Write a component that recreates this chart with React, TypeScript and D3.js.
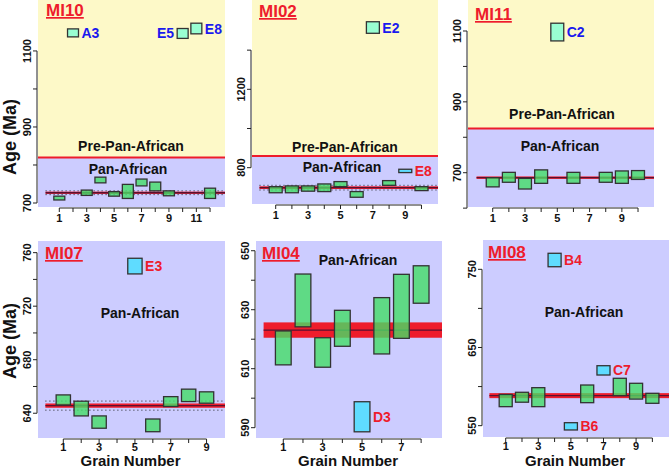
import React from "react";
import * as d3 from "d3";

// ---- data (ages in Ma) ----
// MI10
const mi10Grain = [1, 2, 3, 4, 5, 6, 7, 8, 9, 10, 11, 12];
const mi10Lo = [708, 1137, 720, 753, 718, 712, 745, 732, 719, 1133, 1145, 712];
const mi10Hi = [718, 1158, 734, 768, 730, 749, 763, 755, 732, 1159, 1173, 739];
const mi10Kind = ["pan", "pre", "pan", "pan", "pan", "pan", "pan", "pan", "pan", "pre", "pre", "pan"];
const mi10Label = ["", "A3", "", "", "", "", "", "", "", "E5", "E8", ""];
const mi10Side = ["r", "r", "r", "r", "r", "r", "r", "r", "r", "l", "r", "r"];

// MI02
const mi02Grain = [1, 2, 3, 4, 5, 6, 7, 8, 9, 10];
const mi02Lo = [672, 672, 680, 678, 703, 649, 1486, 710, 775, 683];
const mi02Hi = [703, 707, 707, 717, 729, 678, 1545, 734, 792, 703];
const mi02Kind = ["pan", "pan", "pan", "pan", "pan", "pan", "pre", "pan", "out", "pan"];
const mi02Label = ["", "", "", "", "", "", "E2", "", "E8", ""];

// MI11
const mi11Grain = [1, 2, 3, 4, 5, 6, 8, 9, 10];
const mi11Lo = [660, 673, 654, 670, 1072, 670, 673, 670, 681];
const mi11Hi = [686, 701, 684, 708, 1122, 701, 701, 705, 706];
const mi11Kind = ["pan", "pan", "pan", "pan", "pre", "pan", "pan", "pan", "pan"];
const mi11Label = ["", "", "", "", "C2", "", "", "", ""];

// MI07
const mi07Grain = [1, 2, 3, 5, 6, 7, 8, 9];
const mi07Lo = [646.2, 638, 628.8, 744.1, 626.2, 645, 648.7, 647.5];
const mi07Hi = [653.7, 649, 638, 755.8, 635.7, 652.4, 658, 656];
const mi07Kind = ["pan", "pan", "pan", "out", "pan", "pan", "pan", "pan"];
const mi07Label = ["", "", "", "E3", "", "", "", ""];

// MI04
const mi04Grain = [1, 2, 3, 4, 5, 6, 7, 8];
const mi04Lo = [611.3, 624.2, 610.5, 617.6, 588.6, 615, 620.3, 632.2];
const mi04Hi = [622.8, 642.1, 620.5, 629.8, 598.8, 634.1, 642, 644.9];
const mi04Kind = ["pan", "pan", "pan", "pan", "out", "pan", "pan", "pan"];
const mi04Label = ["", "", "", "", "D3", "", "", ""];

// MI08
const mi08Grain = [1, 2, 3, 4, 5, 6, 7, 8, 9, 10];
const mi08Lo = [574.3, 580, 574.3, 753.3, 544.5, 579.4, 614.8, 588.4, 584, 578.6];
const mi08Hi = [590, 592.7, 598.6, 770.5, 553.8, 602, 626.7, 610.6, 604.2, 591.4];
const mi08Kind = ["pan", "pan", "pan", "out", "out", "pan", "out", "pan", "pan", "pan"];
const mi08Label = ["", "", "", "B4", "B6", "", "C7", "", "", ""];

// weighted means: [mean, red band half width, dotted half width]
const mi10Mean = [727, 3, 5];
const mi02Mean = [698, 7, 12];
const mi11Mean = [686, 3.5, 0];
const mi07Mean = [645.7, 1.6, 3.4];
const mi04Mean = [623.1, 2.6, 0];
const mi08Mean = [588.4, 3.2, 0];

// Pan-African / pre-Pan-African boundary
const mi10Boundary = 820;
const mi02Boundary = 860;
const mi11Boundary = 825;

// axis ticks
const mi10YTicks = [700, 800, 900, 1000, 1100];
const mi10YLabels = [700, 900, 1100];
const mi02YTicks = [800, 1000, 1200, 1400];
const mi02YLabels = [800, 1200];
const mi11YTicks = [600, 700, 800, 900, 1000, 1100];
const mi11YLabels = [700, 900, 1100];
const mi07YTicks = [640, 660, 680, 700, 720, 740, 760];
const mi07YLabels = [640, 680, 720, 760];
const mi04YTicks = [590, 600, 610, 620, 630, 640, 650];
const mi04YLabels = [590, 610, 630, 650];
const mi08YTicks = [550, 600, 650, 700, 750];
const mi08YLabels = [550, 650, 750];
const xLabelsOdd = [1, 3, 5, 7, 9, 11];

const FONT = "'Liberation Sans', Arial, sans-serif";
const YELLOW = "#fdf9c8";
const LAVENDER = "#ccccff";
const RED = "#ee1c2c";
const BLUE = "#1a1aee";
const FILL: Record<string, string> = { pan: "#44dd66", pre: "#7fffd4", out: "#44e0ff" };

type Panel = {
  name: string;
  grain: number[];
  lo: number[];
  hi: number[];
  kind: string[];
  label: string[];
  side?: string[];
  mean: number[];
  boundary?: number;
  yTicks: number[];
  yLabels: number[];
  xMax: number;
  rect: [number, number, number, number];
  xDom: [number, number];
  yDom: [number, number];
  pan: [number, number];
  pre?: [number, number];
  title: [number, number];
  ageY?: number;
  grainLabel?: boolean;
};

const panels: Panel[] = [
  {
    name: "MI10", grain: mi10Grain, lo: mi10Lo, hi: mi10Hi, kind: mi10Kind, label: mi10Label, side: mi10Side,
    mean: mi10Mean, boundary: mi10Boundary, yTicks: mi10YTicks, yLabels: mi10YLabels, xMax: 12,
    rect: [38, 225, 0, 207], xDom: [-0.555, 13.09], yDom: [689.5, 1234],
    pan: [128, 174], pre: [131, 151], title: [46, 16], ageY: 137,
  },
  {
    name: "MI02", grain: mi02Grain, lo: mi02Lo, hi: mi02Hi, kind: mi02Kind, label: mi02Label,
    mean: mi02Mean, boundary: mi02Boundary, yTicks: mi02YTicks, yLabels: mi02YLabels, xMax: 10,
    rect: [252, 438, 0, 204], xDom: [-0.463, 11.02], yDom: [614.6, 1656],
    pan: [342, 172], pre: [345, 152], title: [259, 17],
  },
  {
    name: "MI11", grain: mi11Grain, lo: mi11Lo, hi: mi11Hi, kind: mi11Kind, label: mi11Label,
    mean: mi11Mean, boundary: mi11Boundary, yTicks: mi11YTicks, yLabels: mi11YLabels, xMax: 10,
    rect: [468, 654, 0, 207], xDom: [-0.53, 10.99], yDom: [603.2, 1187.5],
    pan: [560, 151], pre: [562, 119], title: [475, 20],
  },
  {
    name: "MI07", grain: mi07Grain, lo: mi07Lo, hi: mi07Hi, kind: mi07Kind, label: mi07Label,
    mean: mi07Mean, yTicks: mi07YTicks, yLabels: mi07YLabels, xMax: 9,
    rect: [38, 225, 241, 438], xDom: [-0.413, 10.03], yDom: [621.5, 768.7],
    pan: [140, 318], title: [45, 259], ageY: 341, grainLabel: true,
  },
  {
    name: "MI04", grain: mi04Grain, lo: mi04Lo, hi: mi04Hi, kind: mi04Kind, label: mi04Label,
    mean: mi04Mean, yTicks: mi04YTicks, yLabels: mi04YLabels, xMax: 8,
    rect: [256, 442, 241, 438], xDom: [-0.386, 9.06], yDom: [586.5, 653.3],
    pan: [358, 265], title: [262, 259], grainLabel: true,
  },
  {
    name: "MI08", grain: mi08Grain, lo: mi08Lo, hi: mi08Hi, kind: mi08Kind, label: mi08Label,
    mean: mi08Mean, yTicks: mi08YTicks, yLabels: mi08YLabels, xMax: 10,
    rect: [483, 669, 240, 437], xDom: [-0.393, 11.02], yDom: [535.5, 787.5],
    pan: [584, 317], title: [488, 258], grainLabel: true,
  },
];

const PanelPlot = ({ p }: { p: Panel }) => {
  const [x0, x1, y0, y1] = p.rect;
  const x = d3.scaleLinear().domain(p.xDom).range([x0, x1]);
  const y = d3.scaleLinear().domain(p.yDom).range([y1, y0]);
  const [m, band, dots] = p.mean;
  const xTicks = d3.range(1, p.xMax + 1);
  const axX = x0 - 1;
  const axY = y1 + 1;
  const yT = p.yTicks.filter((t) => y(t) >= y0 - 1 && y(t) <= y1 + 2);
  const tickDy = p.grainLabel ? 12 : 14;

  return (
    <g>
      {p.boundary ? (
        <>
          <rect x={x0} y={y0} width={x1 - x0} height={y(p.boundary) - y0} fill={YELLOW} />
          <rect x={x0} y={y(p.boundary)} width={x1 - x0} height={y1 - y(p.boundary)} fill={LAVENDER} />
          <line x1={x0} x2={x1} y1={y(p.boundary)} y2={y(p.boundary)} stroke={RED} strokeWidth={2} />
        </>
      ) : (
        <rect x={x0} y={y0} width={x1 - x0} height={y1 - y0} fill={LAVENDER} />
      )}

      {/* weighted mean */}
      <rect x={x(0)} width={x1 - x(0)} y={y(m + band)} height={y(m - band) - y(m + band)} fill={RED} />
      <line x1={x(0)} x2={x1} y1={y(m)} y2={y(m)} stroke="#5a1030" strokeWidth={1.3} />
      {dots > 0 &&
        [m - dots, m + dots].map((v, i) => (
          <line key={i} x1={x(0)} x2={x1} y1={y(v)} y2={y(v)} stroke="#222" strokeWidth={1} strokeDasharray="1 3" />
        ))}

      {/* grain boxes */}
      {p.grain.map((g, i) => (
        <rect
          key={i}
          x={x(g - 0.4)}
          width={x(g + 0.4) - x(g - 0.4)}
          y={y(p.hi[i])}
          height={y(p.lo[i]) - y(p.hi[i])}
          fill={FILL[p.kind[i]]}
          fillOpacity={0.8}
          stroke="#333"
          strokeWidth={1.3}
        />
      ))}
      {p.grain.map((g, i) =>
        p.label[i] ? (
          <text
            key={"l" + i}
            x={p.side && p.side[i] === "l" ? x(g - 0.4) - 3 : x(g + 0.4) + 3}
            y={(y(p.lo[i]) + y(p.hi[i])) / 2}
            dy="0.36em"
            textAnchor={p.side && p.side[i] === "l" ? "end" : "start"}
            fontSize={14}
            fontWeight="bold"
            fill={p.kind[i] === "pre" ? BLUE : RED}
          >
            {p.label[i]}
          </text>
        ) : null
      )}

      {/* region texts */}
      {p.pre && (
        <text x={p.pre[0]} y={p.pre[1]} textAnchor="middle" fontSize={14} fontWeight="bold" fill="#111">
          Pre-Pan-African
        </text>
      )}
      <text x={p.pan[0]} y={p.pan[1]} textAnchor="middle" fontSize={14} fontWeight="bold" fill="#111">
        Pan-African
      </text>
      <text x={p.title[0]} y={p.title[1]} fontSize={17} fontWeight="bold" fill={RED} textDecoration="underline">
        {p.name}
      </text>

      {/* y axis */}
      <line x1={axX} x2={axX} y1={y(d3.max(yT)!)} y2={y(d3.min(yT)!)} stroke="#222" strokeWidth={1} />
      {yT.map((t) => (
        <line key={t} x1={axX - 4} x2={axX} y1={y(t)} y2={y(t)} stroke="#222" strokeWidth={1} />
      ))}
      {p.yLabels.map((t) => (
        <text
          key={t}
          transform={`translate(${axX - 6},${y(t)}) rotate(-90)`}
          textAnchor="middle"
          fontSize={11}
          fontWeight="bold"
          fill="#111"
        >
          {t}
        </text>
      ))}

      {/* x axis */}
      <line x1={x(1)} x2={x(p.xMax)} y1={axY} y2={axY} stroke="#222" strokeWidth={1} />
      {xTicks.map((t) => (
        <line key={t} x1={x(t)} x2={x(t)} y1={axY} y2={axY + 4} stroke="#222" strokeWidth={1} />
      ))}
      {xLabelsOdd
        .filter((t) => t <= p.xMax)
        .map((t) => (
          <text key={t} x={x(t)} y={axY + tickDy} textAnchor="middle" fontSize={11} fontWeight="bold" fill="#111">
            {t}
          </text>
        ))}

      {p.ageY !== undefined && (
        <text
          transform={`translate(16,${p.ageY}) rotate(-90)`}
          textAnchor="middle"
          fontSize={18}
          fontWeight="bold"
          fill="#111"
        >
          Age (Ma)
        </text>
      )}
      {p.grainLabel && (
        <text x={(x0 + x1) / 2 - 1} y={466} textAnchor="middle" fontSize={15} fontWeight="bold" fill="#111">
          Grain Number
        </text>
      )}
    </g>
  );
};

export default function App() {
  return (
    <svg
      width={669}
      height={468}
      style={{ position: "absolute", left: 0, top: 0, fontFamily: FONT, background: "#fff" }}
    >
      {panels.map((p) => (
        <PanelPlot key={p.name} p={p} />
      ))}
    </svg>
  );
}
